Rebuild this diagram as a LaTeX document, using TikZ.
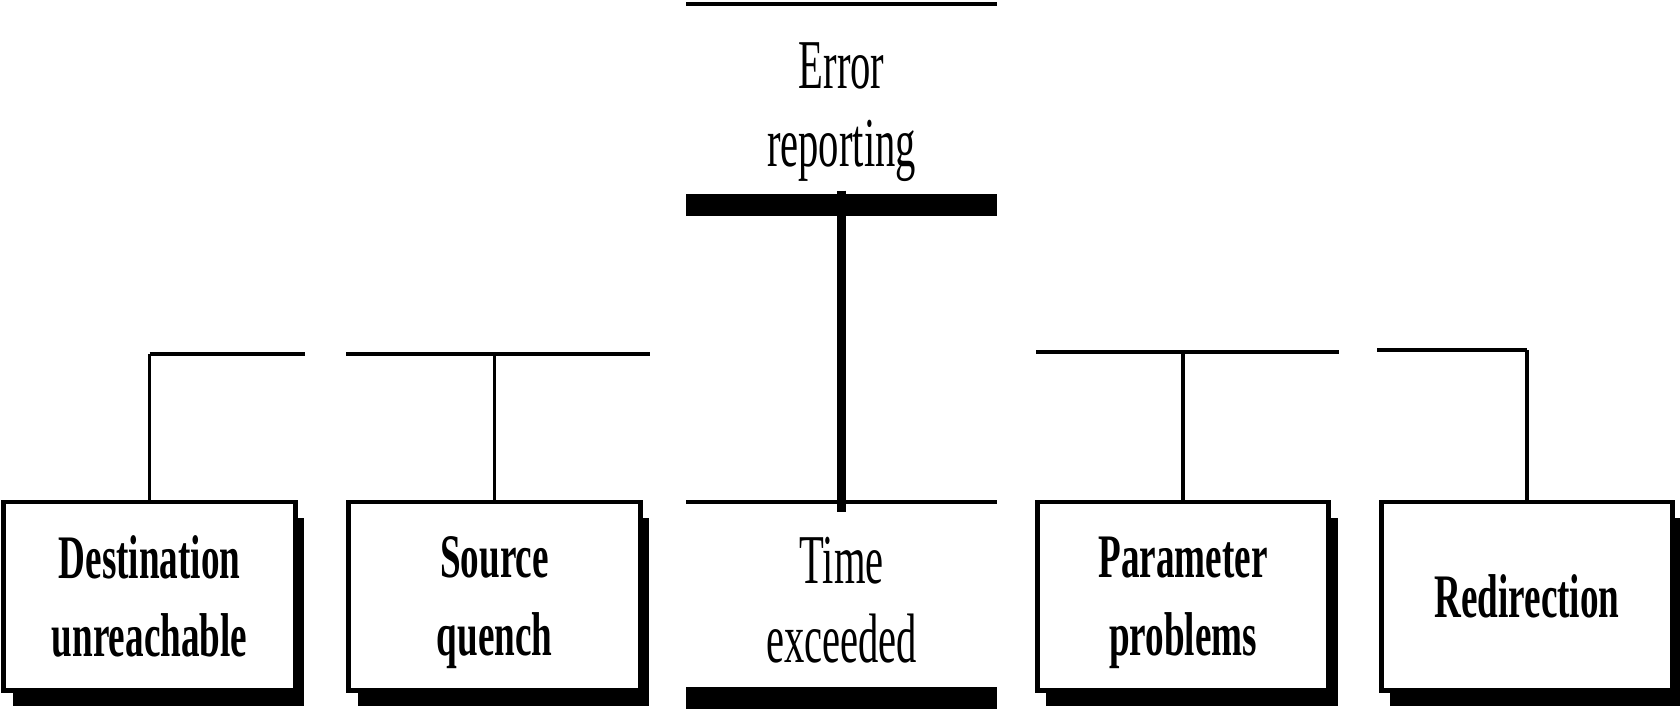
\documentclass[tikz,border=0pt]{standalone}
\usepackage{fontspec}
\newfontfamily\headfont[FakeStretch=0.58]{Liberation Serif}
\newfontfamily\boxfont[FakeStretch=0.6]{Liberation Serif}
\usetikzlibrary{shadows}

\begin{document}
\begin{tikzpicture}
  [x=0.01cm,y=-0.01cm,
   every node/.style={inner sep=0pt,align=center,text depth=0pt},
   head/.style={minimum width=3.09cm,font=\headfont\fontsize{19.9pt}{22.4pt}\selectfont},
   msg/.style={draw,line width=1.4pt,fill=white,minimum width=2.91cm,minimum height=1.88cm,
     font=\boxfont\bfseries\fontsize{17.6pt}{22.2pt}\selectfont,
     drop shadow={shadow xshift=0.9mm,shadow yshift=-1.6mm,fill=black,opacity=1}},
   rule/.style={line width=1.1pt},
   bar/.style={line width=6.3pt},
   bus/.style={line width=1.2pt},
   branch/.style={line width=0.9pt}]
  \useasboundingbox (0,0) rectangle (1680,708);

  \node[head,minimum height=1.99cm] (err) at (841.5,104.5) {Error\\reporting};
  \node[head,minimum height=1.94cm] (time) at (841.5,600) {Time\\exceeded};

  \node[msg] (dest) at (149.5,596) {Destination\\unreachable};
  \node[msg] (src) at (494.5,596) {Source\\quench};
  \node[msg] (par) at (1183,596) {Parameter\\problems};
  \node[msg] (red) at (1527,596) {Redirection};

  \draw[rule] (err.north west) -- (err.north east);
  \draw[bar] (err.south west) -- (err.south east);
  \draw[rule] (time.north west) -- (time.north east);
  \draw[bar] (time.south west) -- (time.south east);
  \draw[line width=2.3pt,shorten <=-4pt,shorten >=-2.8pt] (err.south) -- (time.north);

  \coordinate (dbus) at (305,354);
  \draw[bus] (dest.north |- dbus) -- (dbus);
  \draw[branch] (dest.north) -- (dest.north |- dbus);

  \coordinate (sbusL) at (346,354);
  \coordinate (sbusR) at (650,354);
  \draw[bus] (sbusL) -- (sbusR);
  \draw[branch] (src.north) -- (src.north |- sbusL);

  \coordinate (pbusL) at (1036,352);
  \coordinate (pbusR) at (1339,352);
  \draw[bus] (pbusL) -- (pbusR);
  \draw[branch] (par.north) -- (par.north |- pbusL);

  \coordinate (rbus) at (1377,350);
  \draw[bus] (rbus) -- (red.north |- rbus);
  \draw[branch] (red.north) -- (red.north |- rbus);

\end{tikzpicture}
\end{document}
